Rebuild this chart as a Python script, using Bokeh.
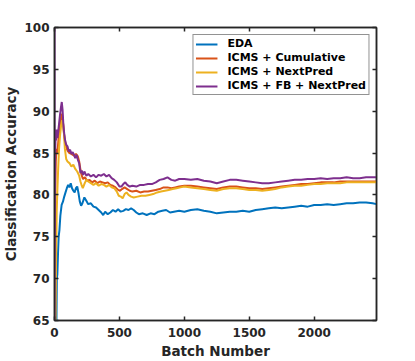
from bokeh.plotting import figure
from bokeh.models import Legend, LegendItem, LinearAxis, FixedTicker, Range1d
from bokeh.embed import file_html
from bokeh.resources import INLINE

# ---------------- data ----------------
series_names = ["EDA", "ICMS + Cumulative", "ICMS + NextPred", "ICMS + FB + NextPred"]
series_colors = ["#0072BD", "#D95319", "#EDB120", "#7E2F8E"]

eda_pts = [(0, 65), (15, 65), (18, 70), (22, 70.5), (27, 73), (32, 75), (38, 75.8), (45, 77.5),
           (55, 78.8), (65, 79.2), (75, 79.8), (85, 80.3), (95, 80.8), (105, 81.2), (115, 80.9),
           (125, 81.4), (135, 80.8), (145, 80.5), (155, 80.3), (165, 80.8), (175, 81.0), (185, 80.2),
           (195, 79.2), (205, 78.7), (215, 79.0), (230, 79.7), (245, 79.3), (260, 78.9), (280, 79.0),
           (300, 78.6), (320, 78.5), (340, 78.2), (360, 77.9), (375, 77.6), (390, 78.0), (410, 77.7),
           (430, 77.9), (450, 78.2), (470, 78.0), (490, 78.3), (510, 78.0), (530, 78.1), (550, 78.3),
           (570, 78.2), (590, 78.4), (610, 78.2), (630, 77.9), (650, 77.7), (680, 77.8), (710, 77.6),
           (740, 77.8), (770, 77.7), (800, 78.0), (830, 78.1), (860, 78.2), (890, 77.9), (920, 78.0),
           (960, 78.1), (1000, 78.0), (1050, 78.2), (1100, 78.3), (1150, 78.1), (1200, 78.0),
           (1250, 77.8), (1300, 77.9), (1350, 78.0), (1400, 78.0), (1450, 78.1), (1500, 78.0),
           (1550, 78.2), (1600, 78.3), (1650, 78.4), (1700, 78.5), (1750, 78.4), (1800, 78.5),
           (1850, 78.6), (1900, 78.7), (1950, 78.6), (2000, 78.8), (2050, 78.8), (2100, 78.9),
           (2150, 78.8), (2200, 78.9), (2250, 79.0), (2300, 79.0), (2350, 79.1), (2400, 79.1),
           (2450, 79.0), (2480, 78.9)]

cumulative_pts = [(0, 65), (3, 72), (6, 80), (10, 84), (15, 85.5), (22, 85), (30, 86.5), (40, 88),
                  (50, 89.2), (58, 89.7), (65, 88.8), (72, 87.5), (80, 86.5), (90, 85.8), (100, 85.3),
                  (115, 85.0), (130, 84.9), (150, 84.7), (165, 84.9), (180, 84.6), (190, 84.0),
                  (200, 83.0), (210, 82.3), (220, 81.9), (235, 82.1), (250, 81.7), (270, 81.8),
                  (290, 81.5), (310, 81.7), (330, 81.4), (350, 81.6), (370, 81.5), (390, 81.4),
                  (410, 81.5), (430, 81.2), (450, 81.1), (470, 80.9), (490, 80.6), (505, 80.5),
                  (520, 80.7), (540, 80.9), (560, 80.7), (580, 80.5), (600, 80.4), (630, 80.5),
                  (660, 80.3), (690, 80.4), (720, 80.4), (750, 80.5), (780, 80.6), (810, 80.7),
                  (840, 80.9), (870, 80.9), (900, 80.8), (930, 80.9), (960, 81.0), (1000, 81.1),
                  (1050, 81.1), (1100, 81.0), (1150, 80.9), (1200, 80.8), (1250, 80.7), (1300, 80.9),
                  (1350, 81.0), (1400, 81.0), (1450, 80.9), (1500, 80.8), (1550, 80.8), (1600, 80.7),
                  (1650, 80.8), (1700, 80.9), (1750, 81.0), (1800, 81.1), (1850, 81.2), (1900, 81.3),
                  (1950, 81.3), (2000, 81.4), (2050, 81.5), (2100, 81.5), (2150, 81.5), (2200, 81.6),
                  (2250, 81.6), (2300, 81.6), (2350, 81.6), (2400, 81.6), (2450, 81.6), (2480, 81.6)]

nextpred_pts = [(0, 65), (8, 65), (12, 72), (17, 78), (22, 80.5), (28, 83), (35, 85.5), (42, 87),
                (50, 88.2), (58, 88.9), (65, 88.6), (72, 87.5), (80, 85.5), (90, 84.3), (100, 84.0),
                (115, 83.8), (130, 83.4), (145, 83.6), (160, 83.1), (175, 82.8), (190, 82.3),
                (200, 81.6), (210, 81.1), (218, 80.8), (230, 81.3), (245, 81.8), (260, 81.6),
                (280, 81.4), (300, 81.2), (320, 81.4), (340, 81.1), (360, 81.3), (380, 81.2),
                (400, 81.0), (420, 81.2), (440, 80.9), (460, 80.8), (480, 80.4), (495, 79.9),
                (510, 79.8), (525, 79.6), (540, 80.1), (555, 80.3), (570, 80.0), (590, 79.8),
                (610, 79.7), (640, 79.8), (670, 79.9), (700, 79.9), (730, 80.0), (760, 80.1),
                (790, 80.3), (820, 80.4), (850, 80.5), (880, 80.6), (910, 80.7), (940, 80.8),
                (970, 80.9), (1000, 81.0), (1050, 80.9), (1100, 80.8), (1150, 80.7), (1200, 80.6),
                (1250, 80.5), (1300, 80.7), (1350, 80.8), (1400, 80.8), (1450, 80.7), (1500, 80.6),
                (1550, 80.6), (1600, 80.5), (1650, 80.6), (1700, 80.7), (1750, 80.9), (1800, 81.0),
                (1850, 81.1), (1900, 81.1), (1950, 81.2), (2000, 81.3), (2050, 81.3), (2100, 81.4),
                (2150, 81.4), (2200, 81.4), (2250, 81.5), (2300, 81.5), (2350, 81.5), (2400, 81.5),
                (2450, 81.5), (2480, 81.5)]

fb_nextpred_pts = [(0, 100), (1, 65), (4, 83), (8, 87.5), (12, 86.5), (16, 87.8), (22, 86.8),
                   (28, 87.5), (35, 88.5), (42, 89.5), (50, 90.5), (56, 91.1), (62, 90.2), (68, 88.5),
                   (75, 87.3), (82, 86.5), (90, 86.0), (100, 85.8), (110, 85.2), (120, 85.4),
                   (130, 84.9), (140, 85.1), (150, 84.8), (160, 84.4), (170, 84.8), (180, 84.2),
                   (190, 83.8), (200, 82.6), (210, 82.9), (220, 82.4), (230, 82.8), (245, 82.3),
                   (260, 82.5), (280, 82.2), (300, 82.4), (320, 82.1), (340, 82.4), (360, 82.3),
                   (380, 82.5), (400, 82.2), (420, 82.4), (440, 82.0), (460, 81.8), (480, 81.5),
                   (500, 81.0), (515, 81.0), (530, 81.3), (545, 81.5), (560, 81.2), (580, 81.0),
                   (600, 81.1), (630, 81.0), (660, 81.2), (690, 81.2), (720, 81.3), (750, 81.3),
                   (780, 81.5), (810, 81.8), (840, 81.9), (870, 82.1), (900, 81.8), (930, 81.7),
                   (960, 81.9), (1000, 81.9), (1050, 81.8), (1100, 81.9), (1150, 81.7), (1200, 81.6),
                   (1250, 81.4), (1300, 81.6), (1350, 81.8), (1400, 81.8), (1450, 81.7), (1500, 81.6),
                   (1550, 81.5), (1600, 81.4), (1650, 81.4), (1700, 81.5), (1750, 81.6), (1800, 81.7),
                   (1850, 81.8), (1900, 81.8), (1950, 81.9), (2000, 81.9), (2050, 82.0), (2100, 81.9),
                   (2150, 82.0), (2200, 82.0), (2250, 82.1), (2300, 82.0), (2350, 82.0), (2400, 82.1),
                   (2450, 82.1), (2480, 82.1)]

x_ticks = [0, 500, 1000, 1500, 2000]
y_ticks = [65, 70, 75, 80, 85, 90, 95, 100]
x_limits = (0, 2480)
y_limits = (65, 100)

# ---------------- figure ----------------
FONT = "DejaVu Sans"
DARK = "#262626"

p = figure(width=408, height=361, output_backend="svg", toolbar_location=None,
           x_range=Range1d(*x_limits), y_range=Range1d(*y_limits),
           min_border_left=53, min_border_right=32, min_border_top=27, min_border_bottom=40)
p.background_fill_color = "white"
p.border_fill_color = "white"
p.xgrid.visible = False
p.ygrid.visible = False
p.outline_line_color = DARK
p.outline_line_width = 1.5

renderers = []
for pts, col in zip([eda_pts, cumulative_pts, nextpred_pts, fb_nextpred_pts], series_colors):
    xs = [a for a, b in pts]
    ys = [b for a, b in pts]
    r = p.line(xs, ys, line_color=col, line_width=2)
    renderers.append(r)


def style_axis(ax, ticks, show_labels=True):
    ax.ticker = FixedTicker(ticks=ticks)
    ax.minor_tick_line_color = None
    ax.major_tick_in = 4
    ax.major_tick_out = 0
    ax.major_tick_line_color = DARK
    ax.major_tick_line_width = 1.5
    ax.axis_line_color = DARK
    ax.axis_line_width = 1.5
    ax.major_label_text_font = FONT
    ax.major_label_text_font_style = "bold"
    ax.major_label_text_font_size = "12px"
    ax.major_label_text_color = DARK if show_labels else None
    ax.major_label_standoff = 5
    ax.axis_label_text_font = FONT
    ax.axis_label_text_font_style = "bold"
    ax.axis_label_text_font_size = "13.5px"
    ax.axis_label_text_color = DARK


xa = p.xaxis[0]
ya = p.yaxis[0]
style_axis(xa, x_ticks)
style_axis(ya, y_ticks)
xa.axis_label = "Batch Number"
ya.axis_label = "Classification Accuracy"
xa.major_label_standoff = 7
xa.axis_label_standoff = 3
ya.major_label_standoff = 5
ya.axis_label_standoff = 2

top_ax = LinearAxis()
style_axis(top_ax, x_ticks, show_labels=False)
p.add_layout(top_ax, "above")
right_ax = LinearAxis()
style_axis(right_ax, y_ticks, show_labels=False)
p.add_layout(right_ax, "right")

legend = Legend(items=[LegendItem(label=n, renderers=[r]) for n, r in zip(series_names, renderers)],
                location="top_right")
legend.margin = 7
legend.padding = 2
legend.spacing = 1
legend.glyph_width = 22
legend.glyph_height = 12
legend.label_height = 12
legend.label_standoff = 10
legend.label_text_font = FONT
legend.label_text_font_style = "bold"
legend.label_text_font_size = "11px"
legend.label_text_color = "black"
legend.border_line_color = DARK
legend.border_line_width = 1.5
legend.background_fill_color = "white"
legend.background_fill_alpha = 1.0
p.add_layout(legend, "center")

open("out.html", "w").write(file_html(p, INLINE))
